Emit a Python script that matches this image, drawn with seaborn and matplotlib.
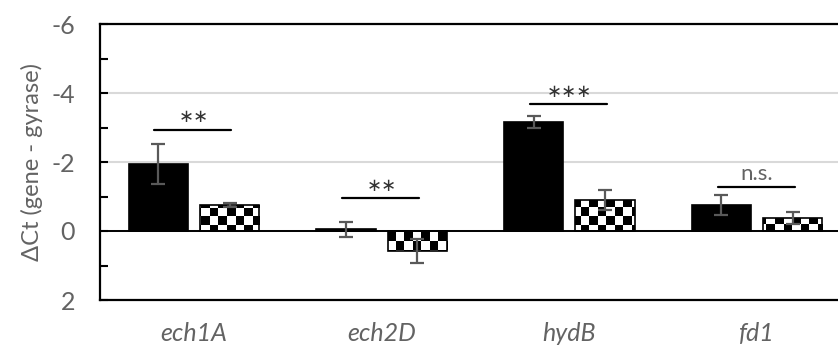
import numpy as np
import pandas as pd
import matplotlib
matplotlib.use("Agg")
import matplotlib.pyplot as plt
import seaborn as sns

genes = ["ech1A", "ech2D", "hydB", "fd1"]
groups = ["solid", "checkered"]
dct_solid = [-1.93, -0.05, -3.16, -0.75]
dct_checker = [-0.75, 0.58, -0.90, -0.38]
err_solid = [0.58, 0.22, 0.17, 0.30]
err_checker = [0.05, 0.35, 0.29, 0.17]
sig_labels = ["**", "**", "***", "n.s."]
sig_levels = [-2.93, -0.95, -3.68, -1.28]

df = pd.DataFrame({
    "gene": genes * 2,
    "group": [groups[0]] * 4 + [groups[1]] * 4,
    "dct": dct_solid + dct_checker,
})

sns.set_theme(style="white")
plt.rcParams["font.family"] = ["Lato", "DejaVu Sans"]
gray = "#636363"

fig = plt.figure(figsize=(8.38, 3.49), dpi=100)
ax = fig.add_axes([100 / 838, 49 / 349, 751 / 838, 276 / 349])

sns.barplot(data=df, x="gene", y="dct", hue="group", order=genes,
            hue_order=groups, palette=["black", "white"], errorbar=None,
            width=0.76, gap=0.17, edgecolor="black", linewidth=1.2,
            legend=False, ax=ax, zorder=3)

ax.set_xlim(-0.5, 3.5)
ax.set_ylim(2, -6)

# checkerboard fill for the second group, clipped to each bar
nx, ny = 89, 33
checker = (np.add.outer(np.arange(ny), np.arange(nx)) % 2).astype(float)
bars = ax.patches
solid_bars = bars[:4]
checker_bars = bars[4:8]
for p in checker_bars:
    im = ax.imshow(checker, cmap="gray_r", extent=(-0.5, 3.5, 2, -6),
                   interpolation="nearest", aspect="auto", zorder=3.5)
    im.set_clip_path(p)
    p.set_zorder(4)
    p.set_facecolor("none")
ax.set_xlim(-0.5, 3.5)
ax.set_ylim(2, -6)

# error bars
for bset, vals, errs in [(solid_bars, dct_solid, err_solid),
                         (checker_bars, dct_checker, err_checker)]:
    xs = [p.get_x() + p.get_width() / 2 for p in bset]
    ax.errorbar(xs, vals, yerr=errs, fmt="none", ecolor="#595959",
                elinewidth=1.6, capsize=5, capthick=1.6, zorder=6)

# significance lines
for i, (lab, lev) in enumerate(zip(sig_labels, sig_levels)):
    ax.plot([i - 0.21, i + 0.2], [lev, lev], color="black", lw=1.6, zorder=5)
    if lab == "n.s.":
        ax.text(i, lev - 0.08, lab, ha="center", va="bottom", fontsize=16,
                color=gray)
    else:
        ax.text(i, lev - 0.1, lab.replace("*", "\u2217"), ha="center",
                va="bottom", fontsize=13, color="#333333",
                family=["DejaVu Sans"])

ax.axhline(0, color="black", lw=1.4, zorder=5)
ax.set_yticks([-6, -4, -2, 0, 2])
ax.set_yticks([-5, -3, -1, 1], minor=True)
ax.set_yticklabels(["-6", "-4", "-2", "0", "2"])
ax.yaxis.grid(True, color="#d9d9d9", lw=1.5, zorder=0)
ax.tick_params(axis="y", which="both", direction="in", length=6, width=1.5,
               colors="black", labelcolor=gray, labelsize=18, pad=18, left=True)
ax.tick_params(axis="x", length=0, pad=16, labelsize=18, labelcolor=gray)
for t in ax.get_xticklabels():
    t.set_fontstyle("italic")
for s in ax.spines.values():
    s.set_color("black")
    s.set_linewidth(1.6)

ax.set_xlabel("")
ax.set_ylabel("\u0394Ct (gene - gyrase)", color=gray, fontsize=17, labelpad=6)

fig.savefig("out.png", dpi=100)
